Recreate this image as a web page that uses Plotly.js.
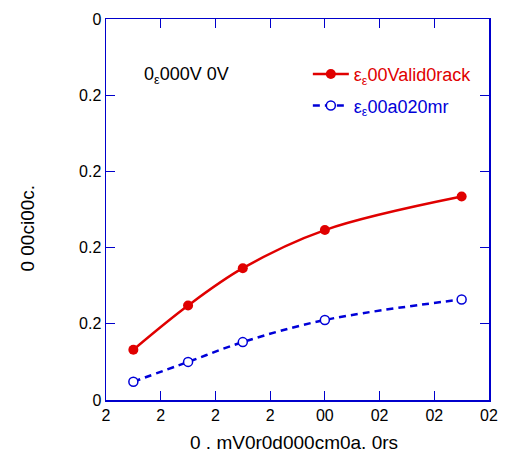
<!DOCTYPE html>
<html><head><meta charset="utf-8">
<script src="https://cdn.plot.ly/plotly-3.0.1.min.js"></script>
<style>body{margin:0;background:#fff}#c{width:506px;height:456px}</style>
</head><body><div id="c"></div>
<script>
var xVals = [0.5, 1.5, 2.5, 4, 6.5];
var redVals = [0.66, 1.24, 1.73, 2.23, 2.67];
var blueVals = [0.24, 0.50, 0.76, 1.05, 1.32];
var xTickVals = [0, 1, 2, 3, 4, 5, 6, 7];
var xTickText = ["2", "2", "2", "2", "00", "02", "02", "02"];
var yTickVals = [0, 1, 2, 3, 4, 5];
var yTickText = ["0", "0.2", "0.2", "0.2", "0.2", "0"];
var redName = "ε<sub>ε</sub>00Valid0rack";
var blueName = "ε<sub>ε</sub>00a020mr";
var xTitle = "0 . mV0r0d000cm0a. 0rs";
var yTitle = "0 00ci00c.";
var panelLabel = "0<sub>ε</sub>000V 0V";

var RED = "#e00000", BLUE = "#0000d8", AX = "#0000cc";
var FAM = "Liberation Sans, Arial, sans-serif";
var traces = [
  {x: xVals, y: redVals, mode: "lines+markers", legend: "legend",
   name: '<span style="color:' + RED + '">' + redName + '</span>',
   line: {color: RED, width: 2.5, shape: "spline"},
   marker: {color: RED, size: 10, symbol: "circle"}},
  {x: xVals, y: blueVals, mode: "lines+markers", legend: "legend2",
   name: '<span style="color:' + BLUE + '">' + blueName + '</span>',
   line: {color: BLUE, width: 2.5, dash: "7px,5px", shape: "spline"},
   marker: {color: "#ffffff", size: 9, symbol: "circle", line: {color: BLUE, width: 1.5}}}
];
var tickFont = {family: FAM, size: 16, color: "#000"};
var legFont = {family: FAM, size: 18};
var layout = {
  width: 506, height: 456,
  margin: {l: 106, r: 17, t: 19, b: 56, pad: 0},
  paper_bgcolor: "#fff", plot_bgcolor: "#fff",
  font: tickFont,
  showlegend: true,
  legend: {x: 0.527, y: 0.855, xanchor: "left", yanchor: "middle", bgcolor: "rgba(0,0,0,0)",
           font: legFont, itemwidth: 36},
  legend2: {x: 0.527, y: 0.772, xanchor: "left", yanchor: "middle", bgcolor: "rgba(0,0,0,0)",
           font: legFont, itemwidth: 36},
  xaxis: {range: [0, 7], tickvals: xTickVals, ticktext: xTickText, ticks: "inside", ticklen: 9,
          tickcolor: AX, linecolor: AX, linewidth: 1.5, showline: true, mirror: "ticks",
          showgrid: false, zeroline: false, tickfont: tickFont},
  yaxis: {range: [0, 5], tickvals: yTickVals, ticktext: yTickText, ticks: "inside", ticklen: 9,
          tickcolor: AX, linecolor: AX, linewidth: 1.5, showline: true, mirror: "ticks",
          showgrid: false, zeroline: false, tickfont: tickFont},
  annotations: [
    {text: xTitle, xref: "paper", yref: "paper", x: 0.49, y: 0, yshift: -42, xanchor: "center", yanchor: "middle",
     showarrow: false, font: {family: FAM, size: 19, color: "#000"}},
    {text: yTitle, xref: "paper", yref: "paper", x: 0, xshift: -78, y: 0.45, xanchor: "center", yanchor: "middle",
     textangle: -90, showarrow: false, font: {family: FAM, size: 19, color: "#000"}},
    {text: panelLabel, xref: "paper", yref: "paper", x: 0.095, y: 0.853, xanchor: "left", yanchor: "middle",
     showarrow: false, font: {family: FAM, size: 18, color: "#000"}}
  ]
};
Plotly.newPlot("c", traces, layout, {staticPlot: true});
</script></body></html>
